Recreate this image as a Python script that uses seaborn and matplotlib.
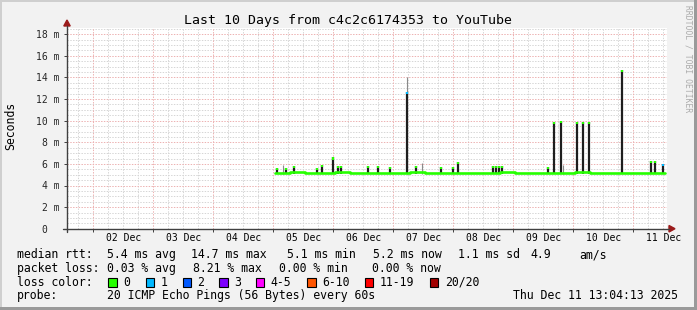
import matplotlib
matplotlib.use("Agg")
import matplotlib.pyplot as plt
import seaborn as sns
import pandas as pd
from matplotlib.patches import Rectangle, Polygon
from matplotlib.lines import Line2D

W, H = 697, 310

# ---------------- data ----------------
title = "Last 10 Days from c4c2c6174353 to YouTube"
y_label = "Seconds"
watermark = "RRDTOOL / TOBI OETIKER"

day_lines = [1, 2, 3, 4, 5, 6, 7, 8, 9, 10]          # midnight of Dec 2 .. Dec 11 (days since Dec 1)
day_label_pos = [1.5, 2.5, 3.5, 4.5, 5.5, 6.5, 7.5, 8.5, 9.5, 10.5]
day_labels = ["02 Dec", "03 Dec", "04 Dec", "05 Dec", "06 Dec",
              "07 Dec", "08 Dec", "09 Dec", "10 Dec", "11 Dec"]
ytick_vals = [0, 2, 4, 6, 8, 10, 12, 14, 16, 18]
ytick_labels = ["0  ", "2 m", "4 m", "6 m", "8 m", "10 m", "12 m", "14 m", "16 m", "18 m"]

# median rtt (ms)
median_t = [4.03, 4.28, 4.53, 4.78, 5.03, 5.28, 5.53, 5.78, 6.03, 6.28, 6.53, 6.78, 7.03, 7.28,
            7.53, 7.78, 8.03, 8.28, 8.53, 8.78, 9.03, 9.28, 9.53, 9.78, 10.03, 10.28, 10.53]
median_ms = [5.2, 5.25, 5.15, 5.2, 5.25, 5.2, 5.2, 5.15, 5.2, 5.25, 5.2, 5.2, 5.15, 5.2,
             5.2, 5.25, 5.2, 5.15, 5.2, 5.2, 5.25, 5.2, 5.2, 5.15, 5.2, 5.2, 5.2]

# dark smoke spikes (ms) with loss class of their median tip
spike_t = [4.06, 4.21, 4.35, 4.73, 4.81, 4.99, 5.08, 5.13, 5.58, 5.75,
           5.95, 6.23, 6.38, 6.79, 6.99, 7.08, 7.66, 7.71, 7.76, 7.81,
           8.58, 8.68, 8.79, 9.06, 9.16, 9.26, 9.81, 10.30, 10.36, 10.49]
spike_top = [5.6, 5.6, 5.8, 5.6, 5.9, 6.6, 5.8, 5.8, 5.8, 5.8,
             5.7, 12.65, 5.8, 5.7, 5.7, 6.2, 5.8, 5.8, 5.8, 5.8,
             5.7, 9.9, 10.0, 9.9, 9.9, 9.9, 14.7, 6.3, 6.3, 6.0]
spike_loss = [0, 0, 0, 0, 0, 0, 0, 0, 0, 0,
              0, 1, 0, 0, 0, 0, 0, 0, 0, 0,
              0, 0, 0, 0, 0, 0, 0, 0, 0, 1]
spike_base = 5.05

# light smoke (outer ping spread)
smoke_t = [4.16, 6.23, 6.48, 8.83]
smoke_top = [5.9, 14.05, 6.1, 5.9]

# stats legend
stats_rtt = ["5.4 ms avg", "14.7 ms max", "5.1 ms min", "5.2 ms now", "1.1 ms sd", "4.9", "am/s"]
stats_loss = ["0.03 % avg", "8.21 % max", "0.00 % min", "0.00 % now"]
loss_labels = ["0", "1", "2", "3", "4-5", "6-10", "11-19", "20/20"]
loss_colors = ["#26ff00", "#00b8ff", "#0059ff", "#7e00ff", "#ff00ff", "#ff5500", "#ff0000", "#a10000"]
probe_text = "20 ICMP Echo Pings (56 Bytes) every 60s"
date_text = "Thu Dec 11 13:04:13 2025"

# ---------------- layout (pixels) ----------------
PL, PR, PT, PB = 67, 667, 28, 228.7
X0 = 1 + (PL - 93.3) / 60.0
rtt_x = [107, 190.7, 286.7, 372.7, 458, 530, 579]
loss_x = [107, 193.3, 279.3, 372.3]
box_x = [108.3, 145.7, 182.7, 219.3, 256, 307.3, 365, 430]
lbl_x = [123, 160.7, 197.3, 234, 270.7, 322, 380, 445]

sns.set_theme(style="white")
plt.rcParams["font.family"] = ["DejaVu Sans Mono", "DejaVu Sans"]
plt.rcParams["text.color"] = "#000000"

BG = "#F2F2F2"
fig = plt.figure(figsize=(W / 100, H / 100), dpi=100, facecolor=BG)


def fx(x):
    return x / W


def fy(y):
    return 1 - y / H


ax = fig.add_axes([fx(PL), fy(PB), (PR - PL) / W, (PB - PT) / H])
ax.set_facecolor("white")
ax.set_xlim(X0, X0 + 10)
ax.set_ylim(0, (PB - PT) / 10.8)
for s in ax.spines.values():
    s.set_visible(False)

# grid
gray = "#D6D6D6"
red = "#EDB2B2"
k = 0.25
while k < 10.6:
    if abs(k - round(k)) > 1e-6 and X0 < k < X0 + 10:
        ax.axvline(k, color=gray, lw=0.72, ls=(0, (1.4, 1.4)), zorder=0.5)
    k += 0.25
v = 0.5
while v < 18.6:
    if abs(v / 2 - round(v / 2)) > 1e-6:
        ax.axhline(v, color=gray, lw=0.72, ls=(0, (1.4, 1.4)), zorder=0.5)
    v += 0.5
for d in day_lines:
    ax.axvline(d, color=red, lw=0.72, ls=(0, (1.4, 1.4)), zorder=0.6)
for yv in ytick_vals[1:]:
    ax.axhline(yv, color=red, lw=0.72, ls=(0, (1.4, 1.4)), zorder=0.6)

# smoke
ax.vlines(smoke_t, spike_base, smoke_top, colors="#8a8a8a", linewidth=0.8, zorder=2)
ax.vlines(spike_t, spike_base, spike_top, colors="#1e1e1e", linewidth=1.6, zorder=3)

# median line
df = pd.DataFrame({"t": median_t, "ms": median_ms})
sns.lineplot(data=df, x="t", y="ms", color=loss_colors[0], linewidth=1.9,
             drawstyle="steps-post", ax=ax, zorder=4)
tip_cols = [loss_colors[c] for c in spike_loss]
ax.vlines(spike_t, [t - 0.2 for t in spike_top], spike_top, colors=tip_cols,
          linewidth=1.6, zorder=5)

ax.set_xlabel("")
ax.set_ylabel("")
ax.set_xticks(day_lines, [""] * len(day_lines))
ax.set_yticks(ytick_vals, ytick_labels)
ax.tick_params(axis="both", direction="out", length=2.2, width=0.7, color="#404040",
               labelsize=7, pad=2.9, bottom=True, left=True)
for d, lab in zip(day_label_pos, day_labels):
    fig.text(fx(PL + (d - X0) * 60), fy(241), lab, ha="center", va="baseline", fontsize=7)

# axis lines with arrows
axc = "#404040"
arc = "#9b1b1b"
fig.add_artist(Line2D([fx(63), fx(669)], [fy(PB), fy(PB)], color=axc, lw=1.0))
fig.add_artist(Line2D([fx(PL), fx(PL)], [fy(232), fy(26)], color=axc, lw=1.0))
fig.add_artist(Polygon([(fx(669), fy(225.5)), (fx(669), fy(232)), (fx(675), fy(PB))],
                       closed=True, color=arc, transform=fig.transFigure))
fig.add_artist(Polygon([(fx(63.8), fy(26)), (fx(70.2), fy(26)), (fx(PL), fy(20))],
                       closed=True, color=arc, transform=fig.transFigure))

# titles
fig.text(fx(348), fy(24), title, ha="center", va="baseline", fontsize=9.5)
fig.text(fx(10.5), fy(126), y_label, ha="center", va="center", rotation=90, fontsize=8.3)
fig.text(fx(688), fy(59), watermark, ha="center", va="center", rotation=270,
         fontsize=5.8, color="#ABABAB")

# legend lines
FS = 8.3
fig.text(fx(16.7), fy(258.3), "median rtt:", fontsize=FS, va="baseline")
for x, s in zip(rtt_x, stats_rtt):
    fig.text(fx(x), fy(258.3), s, fontsize=FS, va="baseline")
fig.text(fx(16.7), fy(272.2), "packet loss:", fontsize=FS, va="baseline")
for x, s in zip(loss_x, stats_loss):
    fig.text(fx(x), fy(272.2), s, fontsize=FS, va="baseline")
fig.text(fx(16.7), fy(285.8), "loss color:", fontsize=FS, va="baseline")
for bx, lx, lab, col in zip(box_x, lbl_x, loss_labels, loss_colors):
    fig.add_artist(Rectangle((fx(bx), fy(286.5)), 8.3 / W, 8.6 / H, facecolor=col,
                             edgecolor="black", linewidth=0.8, transform=fig.transFigure))
    fig.text(fx(lx), fy(285.8), lab, fontsize=FS, va="baseline")
fig.text(fx(16.7), fy(299.4), "probe:", fontsize=FS, va="baseline")
fig.text(fx(107), fy(299.4), probe_text, fontsize=FS, va="baseline")
fig.text(fx(512.7), fy(299.4), date_text, fontsize=FS, va="baseline")

# 3D frame
fig.add_artist(Rectangle((0, fy(2)), 1, 2 / H, facecolor="#CFCFCF", edgecolor="none",
                         transform=fig.transFigure))
fig.add_artist(Rectangle((0, 0), 2 / W, 1, facecolor="#CFCFCF", edgecolor="none",
                         transform=fig.transFigure))
fig.add_artist(Rectangle((0, 0), 1, 3 / H, facecolor="#9A9A9A", edgecolor="none",
                         transform=fig.transFigure))
fig.add_artist(Rectangle((fx(W - 3), 0), 3 / W, 1, facecolor="#9A9A9A", edgecolor="none",
                         transform=fig.transFigure))

fig.savefig("out.png", dpi=100, facecolor=BG)
